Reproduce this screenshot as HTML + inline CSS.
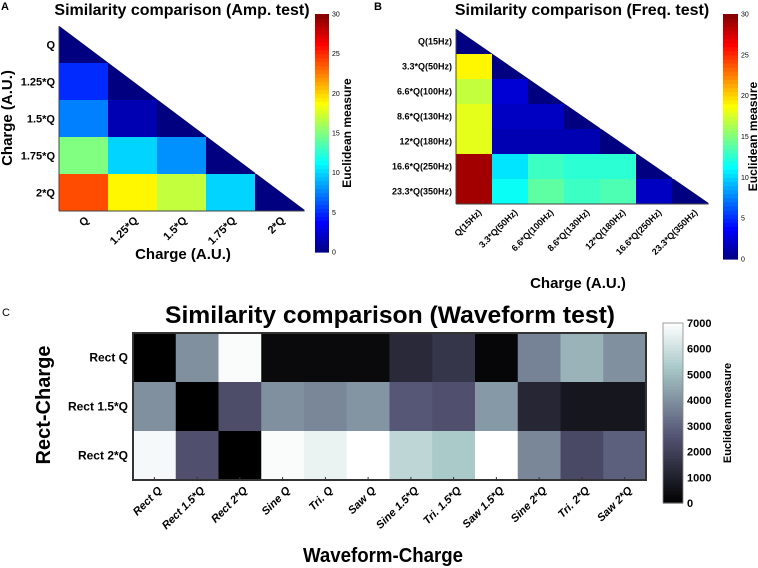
<!DOCTYPE html>
<html><head><meta charset="utf-8"><style>
html,body{margin:0;padding:0;background:#fff}
svg{display:block;font-family:"Liberation Sans",Arial,sans-serif;font-weight:bold}
</style></head><body>
<svg id="fig" width="758" height="568" viewBox="0 0 758 568">
<g id="A"></g>
<g id="B"></g>
<g id="C"></g>
</svg>
<script>
// ---- Panel A data ----
const ampLabels = ["Q","1.25*Q","1.5*Q","1.75*Q","2*Q"];
const ampRow0 = [0];
const ampRow1 = [5, 0];
const ampRow2 = [7.5, 1.5, 0];
const ampRow3 = [15, 10, 8, 0];
const ampRow4 = [24, 19, 17, 10, 0];
const ampTicks = [0,5,10,15,20,25,30];
// ---- Panel B data ----
const freqLabels = ["Q(15Hz)","3.3*Q(50Hz)","6.6*Q(100Hz)","8.6*Q(130Hz)","12*Q(180Hz)","16.6*Q(250Hz)","23.3*Q(350Hz)"];
const freqRow0 = [0];
const freqRow1 = [19, 0];
const freqRow2 = [17, 2.5, 0];
const freqRow3 = [18, 2, 2, 0];
const freqRow4 = [18, 1.5, 1.5, 1.5, 0];
const freqRow5 = [29, 10.5, 13, 12.5, 12.5, 0];
const freqRow6 = [29, 11.5, 14, 13, 13.5, 2, 0];
const freqTicks = [0,5,10,15,20,25,30];
// ---- Panel C data ----
const waveCols = ["Rect Q","Rect 1.5*Q","Rect 2*Q","Sine Q","Tri. Q","Saw Q","Sine 1.5*Q","Tri. 1.5*Q","Saw 1.5*Q","Sine 2*Q","Tri. 2*Q","Saw 2*Q"];
const waveRows = ["Rect Q","Rect 1.5*Q","Rect 2*Q"];
const waveRectQ   = [0, 4000, 6900, 300, 300, 300, 1300, 1700, 200, 3700, 4800, 4000];
const waveRect15Q = [4000, 0, 2400, 4000, 3800, 4100, 2700, 2500, 4200, 1200, 700, 700];
const waveRect2Q  = [6800, 2500, 0, 6900, 6600, 7000, 5700, 5300, 7000, 3800, 2300, 2900];
const waveTicks = [0,1000,2000,3000,4000,5000,6000,7000];

const NS="http://www.w3.org/2000/svg";
function mk(parent,tag,attrs,text){const e=document.createElementNS(NS,tag);for(const k in attrs)e.setAttribute(k,attrs[k]);if(text!==undefined)e.textContent=text;parent.appendChild(e);return e;}
function cl(v){return Math.max(0,Math.min(1,v));}
function jet(t){t=cl(t);const r=cl(1.5-Math.abs(4*t-3)),g=cl(1.5-Math.abs(4*t-2)),b=cl(1.5-Math.abs(4*t-1));return `rgb(${Math.round(r*255)},${Math.round(g*255)},${Math.round(b*255)})`;}
function bone(t){t=cl(t);const hr=cl(t/0.375),hg=cl((t-0.375)/0.375),hb=cl((t-0.75)/0.25);const r=(7*t+hb)/8,g=(7*t+hg)/8,b=(7*t+hr)/8;return `rgb(${Math.round(r*255)},${Math.round(g*255)},${Math.round(b*255)})`;}

function triPanel(g,o){
  const n=o.labels.length, cw=(o.x1-o.x0)/n, ch=(o.y1-o.y0)/n;
  const xs=i=>o.x0+i*cw, ys=i=>o.y0+i*ch;
  o.rows.forEach((row,i)=>row.forEach((v,j)=>{
    const r=mk(g,'rect',{x:xs(j),y:ys(i),width:cw+0.5,height:ch+0.5,fill:jet(v/o.vmax)});
    
    
  }));
  const m=mk(g,'polygon',{points:`${o.x0-1},${o.y0-1} ${o.x1+2},${o.y0-1} ${o.x1+2},${o.y1} `,fill:'#fff'});
  
  mk(g,'line',{x1:o.x0,y1:o.y0,x2:o.x0,y2:o.y1,stroke:'#444','stroke-width':1});
  mk(g,'line',{x1:o.x0,y1:o.y1,x2:o.x1,y2:o.y1,stroke:'#444','stroke-width':1});
  o.labels.forEach((l,i)=>{
    const t=mk(g,'text',{x:o.x0-4,y:ys(i)+ch/2+o.fs*0.35,'text-anchor':'end','font-size':o.fs},l);
    
    const cx=xs(i)+cw/2+o.dx, cy=o.y1+o.dy;
    const u=mk(g,'text',{x:cx,y:cy,'text-anchor':'end','font-size':o.fs,transform:`rotate(-45 ${cx} ${cy})`},l);
    
  });
  const t1=mk(g,'text',{x:o.tx,y:o.ty,'text-anchor':'middle','font-size':16},o.title);
  
  const xt=mk(g,'text',{x:o.xtx,y:o.xty,'text-anchor':'middle','font-size':15},'Charge (A.U.)');
  
  if(o.ytx){const yt=mk(g,'text',{x:o.ytx,y:o.yty,'text-anchor':'middle','font-size':15,transform:`rotate(-90 ${o.ytx} ${o.yty})`},'Charge (A.U.)');
  }
  const pl=mk(g,'text',{x:o.px,y:10,'font-size':11},o.letter);
  
  // colorbar
  const cb=o.cb; const steps=60;
  for(let k=0;k<steps;k++){const h=(cb.y1-cb.y0)/steps;
    const r=mk(g,'rect',{x:cb.x0,y:cb.y1-(k+1)*h,width:cb.x1-cb.x0,height:h+0.6,fill:jet((k+0.5)/steps)});
    }
  o.ticks.forEach(v=>{const y=cb.y1-(v/o.vmax)*(cb.y1-cb.y0);
    const t=mk(g,'text',{x:cb.x1+3,y:y+2.5,'font-size':7,'font-weight':'normal'},String(v));
    });
  const cx=cb.lx, cy=(cb.y0+cb.y1)/2;
  const ct=mk(g,'text',{x:cx,y:cy,'text-anchor':'middle','font-size':12,transform:`rotate(-90 ${cx} ${cy})`},'Euclidean measure');
  
}

triPanel(document.getElementById('A'),{labels:ampLabels,rows:[ampRow0,ampRow1,ampRow2,ampRow3,ampRow4],vmax:30,ticks:ampTicks,
  x0:59,x1:304,y0:26,y1:211,fs:11,dx:6,dy:10,title:'Similarity comparison (Amp. test)',tx:182,ty:15,xtx:183,xty:259,ytx:12,yty:118,
  letter:'A',px:1,cb:{x0:315,x1:329,y0:14,y1:252,lx:351}});
triPanel(document.getElementById('B'),{labels:freqLabels,rows:[freqRow0,freqRow1,freqRow2,freqRow3,freqRow4,freqRow5,freqRow6],vmax:30,ticks:freqTicks,
  x0:456,x1:708,y0:29,y1:204,fs:9,dx:8,dy:9,title:'Similarity comparison (Freq. test)',tx:582,ty:15,xtx:578,xty:288,ytx:null,
  letter:'B',px:374,cb:{x0:723,x1:738,y0:14,y1:259,lx:757}});

// ---- Panel C ----
(function(){
  const g=document.getElementById('C');
  const x0=133,x1=646,y0=333,y1=480;
  const cw=(x1-x0)/waveCols.length, ch=(y1-y0)/waveRows.length, vmax=7000;
  [waveRectQ,waveRect15Q,waveRect2Q].forEach((row,i)=>row.forEach((v,j)=>{
    const r=mk(g,'rect',{x:x0+j*cw,y:y0+i*ch,width:cw+0.5,height:ch+0.5,fill:bone(v/vmax)});
    
    
  }));
  const fr=mk(g,'rect',{x:x0,y:y0,width:x1-x0,height:y1-y0,fill:'none',stroke:'#333','stroke-width':2});
  
  waveRows.forEach((l,i)=>{const t=mk(g,'text',{x:x0-5,y:y0+i*ch+ch/2+4,'text-anchor':'end','font-size':12},l);
    });
  waveCols.forEach((l,j)=>{const cx=x0+j*cw+cw/2+8, cy=y1+11;
    mk(g,'line',{x1:cx-8,y1:y1,x2:cx-8,y2:y1-3,stroke:'#333','stroke-width':1});
    const t=mk(g,'text',{x:cx,y:cy,'text-anchor':'end','font-size':11,'font-style':'italic',transform:`rotate(-45 ${cx} ${cy})`},l);
    });
  const tt=mk(g,'text',{x:390,y:323,'text-anchor':'middle','font-size':24,textLength:450,lengthAdjust:'spacingAndGlyphs'},'Similarity comparison (Waveform test)');
  
  const xt=mk(g,'text',{x:383,y:562,'text-anchor':'middle','font-size':20,textLength:160,lengthAdjust:'spacingAndGlyphs'},'Waveform-Charge');
  
  const yt=mk(g,'text',{x:50,y:405,'text-anchor':'middle','font-size':20,transform:'rotate(-90 50 405)'},'Rect-Charge');
  
  const pl=mk(g,'text',{x:2,y:316,'font-size':11,'font-weight':'normal'},'C');
  
  const cb={x0:663,x1:683,y0:323,y1:503};const steps=60;
  for(let k=0;k<steps;k++){const h=(cb.y1-cb.y0)/steps;
    const r=mk(g,'rect',{x:cb.x0,y:cb.y1-(k+1)*h,width:cb.x1-cb.x0,height:h+0.6,fill:bone((k+0.5)/steps)});
    }
  const cbf=mk(g,'rect',{x:cb.x0,y:cb.y0,width:cb.x1-cb.x0,height:cb.y1-cb.y0,fill:'none',stroke:'#888','stroke-width':0.8});
  
  waveTicks.forEach(v=>{const y=cb.y1-(v/vmax)*(cb.y1-cb.y0);
    const t=mk(g,'text',{x:cb.x1+4,y:y+4,'font-size':11},String(v));
    });
  const ct=mk(g,'text',{x:731,y:413,'text-anchor':'middle','font-size':11,transform:'rotate(-90 731 413)'},'Euclidean measure');
  
})();
</script>
</body></html>
